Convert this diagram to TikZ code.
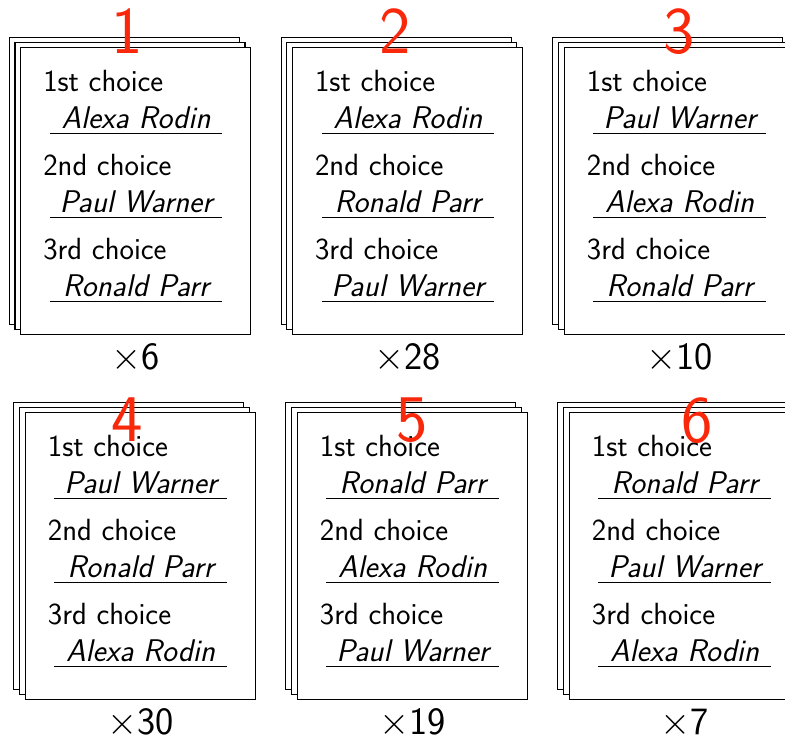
\documentclass[tikz,border=0pt]{standalone}
\usepackage{fix-cm}
\usepackage{tikz}
\usetikzlibrary{positioning}
\definecolor{rankred}{RGB}{250,40,10}

\begin{document}
\begin{tikzpicture}[x=0.75pt,y=-0.75pt,
  sheet/.style={draw,fill=white,line width=0.8pt,minimum width=172.5pt,minimum height=215.6pt,inner sep=0pt,outer sep=0pt,anchor=north west},
  choice/.style={font=\fontsize{23}{27}\selectfont\sffamily,anchor=base west,inner sep=0pt},
  candname/.style={font=\fontsize{23.5}{27}\selectfont\sffamily\itshape,anchor=base,inner sep=0pt,minimum width=129pt,text depth=3.2pt},
  tally/.style={font=\fontsize{29}{33}\selectfont\sffamily,anchor=base,inner sep=0pt},
  rank/.style={font=\fontsize{50}{55}\selectfont\sffamily,text=rankred,anchor=base,inner sep=0pt}
]
  \useasboundingbox (0,0) rectangle (785,737);
  \clip (0,0) rectangle (785,737);
  \foreach \k/\x/\y/\rx/\ry/\first/\second/\third/\n in {
    1/20.7/47.5/127/54/Alexa Rodin/Paul Warner/Ronald Parr/6,
    2/292.5/47.5/395/54/Alexa Rodin/Ronald Parr/Paul Warner/28,
    3/564.3/47.5/679/54/Paul Warner/Alexa Rodin/Ronald Parr/10,
    4/25.3/412.3/127/442/Paul Warner/Ronald Parr/Alexa Rodin/30,
    5/297.3/412.3/412/442/Ronald Parr/Alexa Rodin/Paul Warner/19,
    6/569.3/412.3/696.7/443/Ronald Parr/Paul Warner/Alexa Rodin/7}{
    % three sheets of the stack
    \node[sheet] (back\k) at (\x-11.4,\y-10) {};
    \node[sheet] (mid\k) at (\x-5.7,\y-5) {};
    \node[sheet] (front\k) at (\x,\y) {};
    \foreach \row/\lab/\cand in {0/1st/\first,1/2nd/\second,2/3rd/\third}{
      \node[choice] (lab\k\row) at (\x+22.3,\y+44.2+84*\row) {\lab{} choice};
      \node[candname] (cand\k\row) at (\x+115.3,\y+81.5+84*\row) {\cand};
      \draw[line width=0.8pt] (cand\k\row.south west) -- (cand\k\row.south east);
    }
    \node[tally] (tally\k) at (\x+115,\y+322.5) {$\times$\n};
    \node[rank] (rank\k) at (\rx,\ry) {\k};
  }
\end{tikzpicture}
\end{document}
